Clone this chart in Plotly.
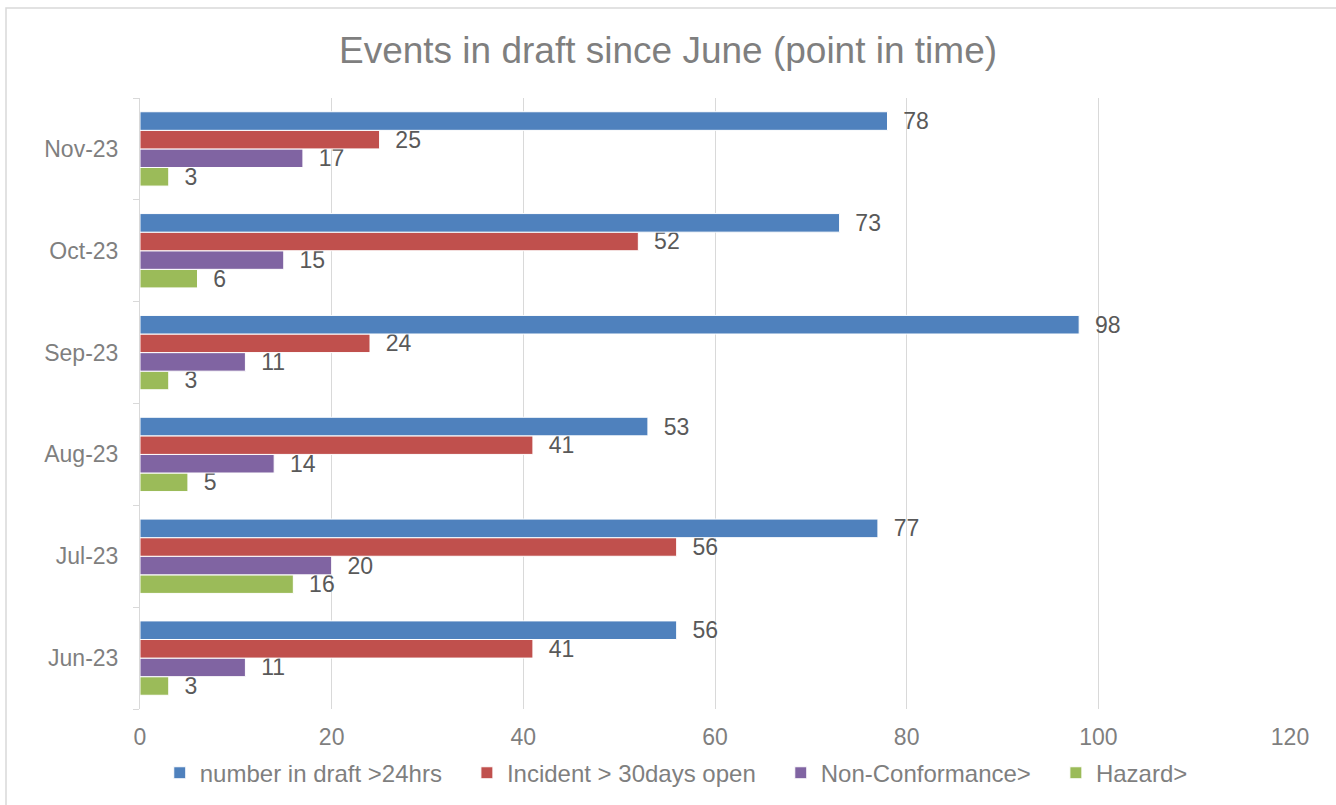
import plotly.graph_objects as go

# Monthly snapshot of events still in draft
months = ["Jun-23", "Jul-23", "Aug-23", "Sep-23", "Oct-23", "Nov-23"]
draft_over_24hrs = [56, 77, 53, 98, 73, 78]
incident_over_30days = [41, 56, 41, 24, 52, 25]
non_conformance = [11, 20, 14, 11, 15, 17]
hazard = [3, 16, 5, 3, 6, 3]

series = [
    ("number in draft >24hrs", draft_over_24hrs, "#4F81BD"),
    ("Incident > 30days open", incident_over_30days, "#C0504D"),
    ("Non-Conformance>", non_conformance, "#8064A2"),
    ("Hazard>", hazard, "#9BBB59"),
]

label_color = "#595959"
axis_text_color = "#7F7F7F"
font_family = "Liberation Sans, Arial, sans-serif"
legend_pad = "\u00a0\u00a0\u00a0"  # extra room after each legend entry

fig = go.Figure()
# horizontal groups stack the first trace at the bottom, so add in reverse
for name, values, color in reversed(series):
    fig.add_trace(go.Bar(
        y=months,
        x=values,
        name=name + legend_pad,
        orientation="h",
        marker=dict(color=color, line=dict(color="white", width=1)),
        text=values,
        texttemplate="  %{x}",
        textposition="outside",
        constraintext="none",
        textfont=dict(size=23, color=label_color, family=font_family),
        cliponaxis=False,
    ))

fig.update_layout(
    width=1336,
    height=805,
    margin=dict(l=140, r=46, t=98, b=96, autoexpand=False),
    paper_bgcolor="white",
    plot_bgcolor="white",
    barmode="group",
    bargap=0.27,
    bargroupgap=0,
    font=dict(family=font_family, color=axis_text_color, size=23),
    title=dict(
        text="Events in draft since June (point in time)",
        x=0.5,
        xanchor="center",
        y=0.938,
        yanchor="middle",
        font=dict(size=37, color=axis_text_color, family=font_family),
    ),
    legend=dict(
        orientation="h",
        traceorder="reversed",
        x=0.475,
        xanchor="center",
        y=-0.105,
        yanchor="middle",
        font=dict(size=24, color=axis_text_color, family=font_family),
        itemwidth=30,
    ),
    xaxis=dict(
        range=[0, 120],
        tickvals=[0, 20, 40, 60, 80, 100, 120],
        showgrid=True,
        gridcolor="#D9D9D9",
        gridwidth=1,
        zeroline=False,
        showline=False,
        ticks="",
        tickfont=dict(size=23, color=axis_text_color),
        ticklabelstandoff=12,
    ),
    yaxis=dict(
        type="category",
        categoryorder="array",
        categoryarray=months,
        showgrid=False,
        zeroline=False,
        showline=True,
        linecolor="#D9D9D9",
        linewidth=1,
        ticks="outside",
        tickson="boundaries",
        ticklen=6,
        tickcolor="#D9D9D9",
        tickfont=dict(size=23, color=axis_text_color),
        ticklabelstandoff=16,
    ),
    shapes=[
        dict(
            type="rect",
            xref="paper",
            yref="paper",
            x0=(6 - 140) / 1150,
            x1=1.2,
            y0=-0.3,
            y1=(709 - 8) / 611,
            line=dict(color="#D9D9D9", width=1.5),
            fillcolor="rgba(0,0,0,0)",
            layer="below",
        )
    ],
)

fig.write_html("out.html")
